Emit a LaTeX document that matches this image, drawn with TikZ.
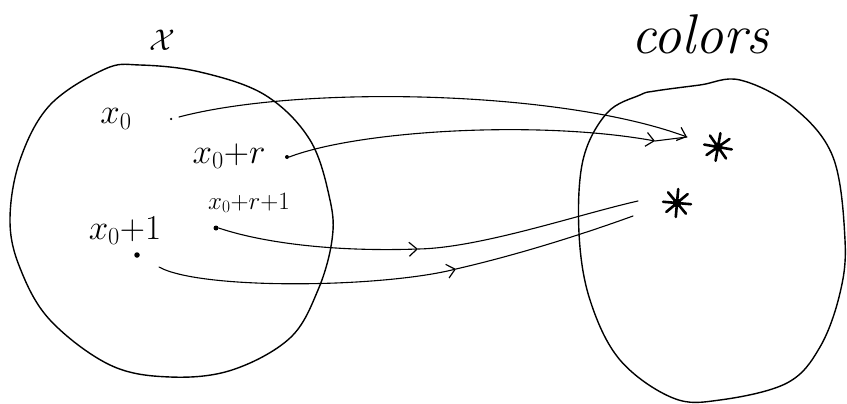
\RequirePackage{fix-cm}
\documentclass[tikz,border=0pt]{standalone}
\usetikzlibrary{arrows.meta}
\begin{document}
\begin{tikzpicture}[x=1pt,y=-1pt]
\tikzset{
  blob/.style={line width=1.4pt, line join=round},
  conn/.style={line width=1.1pt, line cap=round},
  tipped/.style={-{Straight Barb[length=8pt,width=14pt,line width=1.2pt]}},
  lbl/.style={font=\fontsize{35}{40}\selectfont, inner sep=0pt},
  smalllbl/.style={font=\fontsize{25}{30}\selectfont, inner sep=0pt},
  dotn/.style={circle, fill, inner sep=0pt, minimum size=#1},
  starnode/.style={circle, fill, inner sep=0pt, minimum size=9pt},
  ray/.style={line width=2.6pt, line cap=round},
}
\useasboundingbox (0,0) rectangle (847,404);
\fill[white] (0,0) rectangle (847,404);

% left set
\draw[blob] plot[smooth cycle, tension=0.6] coordinates {
  (140,65) (200,72) (265,95) (310,140) (330,200) (332,240) (318,290)
  (290,338) (232,370) (170,377) (110,365) (50,320) (20,268) (10,220)
  (20,160) (50,105) (105,69)};
% right set
\draw[blob] plot[smooth cycle, tension=0.6] coordinates {
  (655,91) (700,85) (740,80) (793,107) (833,157) (845,240) (840,293)
  (820,347) (787,383) (720,400) (673,398) (620,360) (590,300)
  (579,233) (583,160) (607,113) (640,95)};

% titles
\node[font=\fontsize{30}{34}\selectfont, inner sep=0pt] (tX) at (162,40) {$\mathcal{X}$};
\node[font=\fontsize{56}{60}\selectfont\itshape, inner sep=0pt] (tC) at (700,34) {colors};

% labels
\node[lbl] (l0) at (116,119) {$x_0$};
\node[lbl] (lr) at (229,156) {$x_0{+}r$};
\node[smalllbl] (lr1) at (249,203) {$x_0{+}r{+}1$};
\node[lbl] (l1) at (125,231) {$x_0{+}1$};

% points
\node[dotn=2.5pt] (d0) at (171,119) {};
\node[dotn=4pt] (dr) at (287,157) {};
\node[dotn=5pt] (dr1) at (216,228) {};
\node[dotn=5.5pt] (d1) at (137,255) {};

% colours (stars)
\node[starnode] (s1) at (718,147) {};
\node[starnode] (s2) at (677,203) {};
\foreach \a in {0,45,...,315} {
  \draw[ray] (s1.center) -- ++(\a+10:14);
  \draw[ray] (s2.center) -- ++(\a+5:14);
}

% targets and free ends
\coordinate (e0) at (687,137);
\coordinate (er) at (655,141);
\coordinate (m3) at (418,249);
\coordinate (e3) at (638,201);
\coordinate (m4) at (456,269);
\coordinate (e4) at (633,216);

% connectors
\draw[conn, tipped] ([xshift=8pt,yshift=2pt]d0.center) .. controls (300,85) and (560,90) .. (e0);
\draw[conn, tipped] (dr.east) .. controls (360,130) and (540,120) .. (er);
\draw[conn] (er) -- (e0);
\draw[conn, tipped] (dr1.east) .. controls (260,242) and (330,252) .. (m3);
\draw[conn] (m3) .. controls (480,248) and (580,214) .. (e3);
\draw[conn, tipped] ([xshift=22pt,yshift=-12pt]d1.center) .. controls (200,290) and (380,288) .. (m4);
\draw[conn] (m4) .. controls (530,252) and (600,228) .. (e4);
\end{tikzpicture}
\end{document}
